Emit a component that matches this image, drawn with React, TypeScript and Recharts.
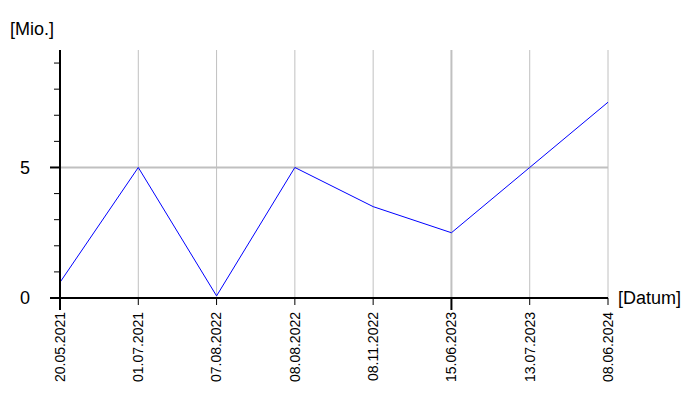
import React from "react";
import {
  LineChart,
  Line,
  XAxis,
  YAxis,
  ReferenceLine,
  Customized,
} from "recharts";

const dates = [
  "20.05.2021",
  "01.07.2021",
  "07.08.2022",
  "08.08.2022",
  "08.11.2022",
  "15.06.2023",
  "13.07.2023",
  "08.06.2024",
];
const values = [0.6, 5, 0.08, 5, 3.5, 2.5, 5, 7.5];
const majorDates = ["20.05.2021", "15.06.2023"];
const yTicks = [0, 1, 2, 3, 4, 5, 6, 7, 8, 9];
const yLabelled = [0, 5];

const FONT = "'Liberation Sans', Arial, sans-serif";

const data = dates.map((d, i) => ({ date: d, value: values[i] }));

function XTick(props: any) {
  const { x, y, payload } = props;
  const major = majorDates.includes(payload.value);
  return (
    <g>
      <line
        x1={x}
        x2={x}
        y1={y}
        y2={y + (major ? 12 : 7)}
        stroke="#000"
        strokeWidth={major ? 2 : 1}
      />
      <text
        x={0}
        y={0}
        transform={`translate(${x},${y + 14}) rotate(-90)`}
        textAnchor="end"
        dy="0.35em"
        fontSize={14}
        fontFamily={FONT}
        fill="#000"
      >
        {payload.value}
      </text>
    </g>
  );
}

function YTick(props: any) {
  const { x, y, payload } = props;
  const major = yLabelled.includes(payload.value);
  return (
    <g>
      <line
        x1={x - (major ? 10 : 6)}
        x2={x}
        y1={y}
        y2={y}
        stroke="#000"
        strokeWidth={major ? 2 : 1}
      />
      {major && (
        <text
          x={x - 30}
          y={y}
          dy="0.35em"
          textAnchor="end"
          fontSize={18}
          fontFamily={FONT}
          fill="#000"
        >
          {payload.value}
        </text>
      )}
    </g>
  );
}

function Titles() {
  return (
    <g fontFamily={FONT} fontSize={18} fill="#000">
      <text x={10} y={35}>[Mio.]</text>
      <text x={618} y={304}>[Datum]</text>
    </g>
  );
}

export default function App() {
  return (
    <div style={{ position: "absolute", left: 0, top: 0, background: "#fff" }}>
      <LineChart
        width={700}
        height={400}
        data={data}
        margin={{ top: 50, right: 92, left: 0, bottom: 0 }}
      >
        {dates.map((d) => (
          <ReferenceLine
            key={d}
            x={d}
            stroke="#c0c0c0"
            strokeWidth={majorDates.includes(d) ? 2 : 1}
          />
        ))}
        <ReferenceLine y={5} stroke="#c0c0c0" strokeWidth={2} />
        <XAxis
          dataKey="date"
          height={102}
          interval={0}
          tickSize={0}
          tickMargin={0}
          tickLine={false}
          axisLine={{ stroke: "#000", strokeWidth: 2 }}
          tick={<XTick />}
        />
        <YAxis
          width={60}
          domain={[0, 9.5]}
          ticks={yTicks}
          interval={0}
          tickSize={0}
          tickMargin={0}
          tickLine={false}
          axisLine={{ stroke: "#000", strokeWidth: 2 }}
          tick={<YTick />}
        />
        <Line
          dataKey="value"
          stroke="#0000ff"
          strokeWidth={1}
          dot={false}
          isAnimationActive={false}
        />
        <Customized component={<Titles />} />
      </LineChart>
    </div>
  );
}
